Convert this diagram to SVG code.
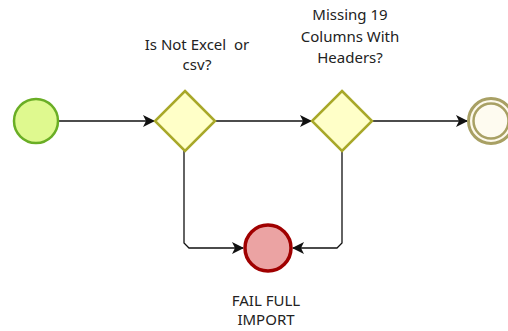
<svg xmlns="http://www.w3.org/2000/svg" width="508" height="331" viewBox="0 0 508 331">
<style>
.lbl{font-family:"Noto Sans","Open Sans","DejaVu Sans",sans-serif;font-size:15px;fill:#222;text-anchor:middle}
.gw{fill:#ffffc8;stroke:#a8a829;stroke-width:2.5}
.edge{fill:none;stroke:#111;stroke-width:1.3}
</style>
<defs>
<marker id="arr" viewBox="0 0 12 12" refX="11" refY="6" markerWidth="12" markerHeight="12" markerUnits="userSpaceOnUse" orient="auto">
<path d="M0,0 L12,6 L0,12 L3,6 Z" fill="#111"/>
</marker>
</defs>
<g id="connectors">
<path class="edge" d="M58,121 H154" marker-end="url(#arr)"/>
<path class="edge" d="M215,121 H311" marker-end="url(#arr)"/>
<path class="edge" d="M373,121 H467" marker-end="url(#arr)"/>
<path class="edge" d="M184,151 V243 L189,248 H243" marker-end="url(#arr)"/>
<path class="edge" d="M342,151 V243 L337,248 H293" marker-end="url(#arr)"/>
</g>
<g id="start">
<circle cx="36" cy="121" r="22" fill="#dff98f" stroke="#6aae25" stroke-width="2.5"/>
</g>
<g id="gateway1">
<polygon class="gw" points="185,91 215,121 185,151 155,121"/>
<text class="lbl" x="197" y="50" xml:space="preserve">Is Not Excel  or</text>
<text class="lbl" x="197" y="70">csv?</text>
</g>
<g id="gateway2">
<polygon class="gw" points="342,91 372,121 342,151 312,121"/>
<text class="lbl" x="350" y="20">Missing 19</text>
<text class="lbl" x="350" y="42">Columns With</text>
<text class="lbl" x="350" y="63">Headers?</text>
</g>
<g id="end">
<circle cx="491" cy="121" r="22.5" fill="#fdf9ec" stroke="#a8a064" stroke-width="3"/>
<circle cx="491" cy="121" r="17.5" fill="#fefbf0" stroke="#a8a064" stroke-width="2.5"/>
</g>
<g id="fail">
<circle cx="268" cy="248" r="23" fill="#eba3a3" stroke="#a00000" stroke-width="3.5"/>
<text class="lbl" x="266" y="306">FAIL FULL</text>
<text class="lbl" x="266" y="325">IMPORT</text>
</g>
</svg>
